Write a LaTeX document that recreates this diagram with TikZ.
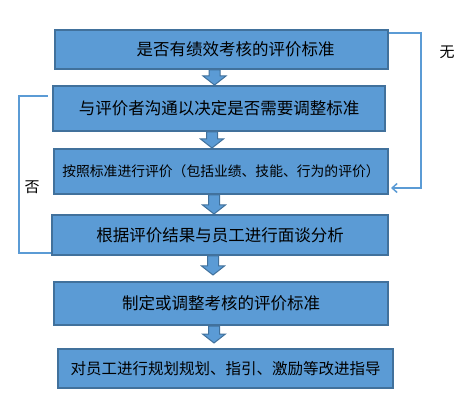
\documentclass[tikz,border=0pt]{standalone}
\usepackage{fontspec}
\newfontfamily\cjk{Noto Sans CJK SC}
\usepackage{tikz}
\usetikzlibrary{calc, positioning, arrows.meta}
\definecolor{boxfill}{HTML}{5B9BD5}
\definecolor{boxline}{HTML}{41719C}
\definecolor{loopcol}{HTML}{5B9BD5}

\tikzset{
	stepbox/.style={draw=boxline, fill=boxfill, line width=2pt, rectangle, inner sep=0pt, font=\cjk\fontsize{16.5}{18}\selectfont},
	blockarr/.style={draw=boxline, fill=boxfill, line width=1pt},
	loopline/.style={draw=loopcol, line width=1.5pt},
	looplabel/.style={font=\cjk\fontsize{15}{16}\selectfont, inner sep=0pt}
}

% block arrow: from box, to box, gap at the tip
\newcommand{\flowarrow}[3]{
	\path[blockarr] let \p1=($(#1.south)+(-7,0)$), \p2=($(#2.north)+(-7,-#3)$) in
	(\x1-5.5pt,\y1) -- (\x1+5.5pt,\y1) -- (\x1+5.5pt,\y2+9pt) -- (\x1+11.5pt,\y2+9pt)
	-- (\x1,\y2) -- (\x1-11.5pt,\y2+9pt) -- (\x1-5.5pt,\y2+9pt) -- cycle;
}

\begin{document}
\begin{tikzpicture}[x=1pt, y=-1pt]
	\useasboundingbox (0,0) rectangle (474,414);
	
	\node [stepbox, minimum width=333pt, minimum height=39pt] (std) at (221.5,49.5) {\rule{28pt}{0pt}是否有绩效考核的评价标准};
	\node [stepbox, minimum width=332pt, minimum height=45pt] (talk) at (219,108.5) {与评价者沟通以决定是否需要调整标准};
	\node [stepbox, minimum width=334pt, minimum height=45pt, font=\cjk\fontsize{13.8}{16}\selectfont] (eval) at (221,171.5) {按照标准进行评价（包括业绩、技能、行为的评价）};
	\node [stepbox, minimum width=336pt, minimum height=40pt] (meet) at (220,235) {根据评价结果与员工进行面谈分析};
	\node [stepbox, minimum width=334pt, minimum height=43pt] (adjust) at (221,303.5) {制定或调整考核的评价标准};
	\node [stepbox, minimum width=335pt, minimum height=39pt, font=\cjk\fontsize{15.5}{17}\selectfont] (guide) at (225.5,368.5) {对员工进行规划规划、指引、激励等改进指导};
	
	\flowarrow{std}{talk}{0}
	\flowarrow{talk}{eval}{0}
	\flowarrow{eval}{meet}{0}
	\flowarrow{meet}{adjust}{6}
	\flowarrow{adjust}{guide}{5}
	
	% no standard: skip to evaluation
	\coordinate (rtop) at ($(std.north east)+(32,4)$);
	\draw [loopline, -{Straight Barb[length=5pt, width=9pt]}] ($(std.north east)+(0,4)$) -- (rtop) |- ($(eval.south east)+(2,-7)$);
	\node [looplabel] (wu) at (447,52) {无};
	
	% not accepted: back to talk
	\draw [loopline] ($(meet.south west)+(0,-3)$) -- ++(-32,0) |- ($(talk.north west)+(-4,11)$);
	\node [looplabel] (fou) at (32,187) {否};
\end{tikzpicture}
\end{document}
